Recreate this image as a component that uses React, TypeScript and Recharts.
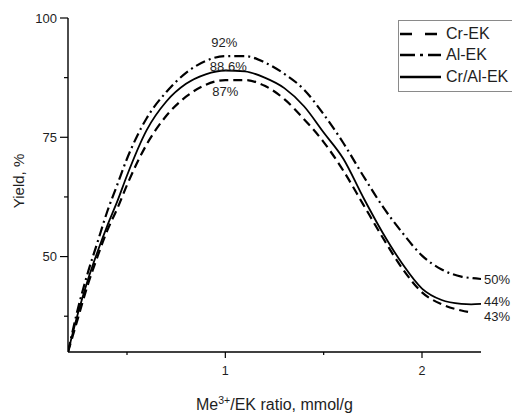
import React from 'react';
import { LineChart, Line, XAxis, YAxis, ReferenceDot, Label } from 'recharts';

// Me3+/EK ratio, mmol/g
const ratio = [0.2, 0.25, 0.3, 0.35, 0.4, 0.45, 0.5, 0.6, 0.7, 0.8, 0.9, 1.0, 1.1, 1.2, 1.3, 1.4, 1.5, 1.6, 1.7, 1.8, 1.9, 2.0, 2.1, 2.2, 2.25, 2.3];

// Yield, %
const crEK = [30, 37, 44, 50, 55.5, 60, 65, 73.5, 79.5, 83.5, 86, 87, 87, 85.8, 83, 78.8, 74, 68, 61, 54, 47.5, 42.5, 40, 38.7, 38.3, null];
const alEK = [30, 39, 46.5, 53, 59.5, 65, 70.5, 79, 84.5, 88.5, 91, 92, 92, 90.7, 88.3, 85, 79.8, 73.8, 67, 60.5, 55, 50.2, 47.3, 45.8, 45.5, 45.3];
const crAlEK = [30, 38, 45, 51, 56.5, 61.5, 67, 76.5, 82.5, 86.2, 88.2, 89, 88.8, 87.5, 85.3, 81.5, 76, 70.5, 62.5, 55, 48.5, 43.3, 40.9, 40.1, 40, 40.1];

const xTicks = [0.5, 1, 1.5, 2];
const xLabels = [1, 2];
const yTicks = [37.5, 50, 62.5, 75, 87.5, 100];
const yLabels = [50, 75, 100];

const peakNotes = [
  { x: 0.995, y: 94.8, text: '92%' },
  { x: 1.015, y: 89.9, text: '88.6%' },
  { x: 1.0, y: 84.6, text: '87%' },
];
const endNotes = [
  { x: 2.3, y: 45.3, text: '50%' },
  { x: 2.3, y: 40.7, text: '44%' },
  { x: 2.3, y: 37.4, text: '43%' },
];

const data = ratio.map((r, i) => ({ ratio: r, cr: crEK[i], al: alEK[i], cral: crAlEK[i] }));

const FONT = '"Liberation Sans", Arial, sans-serif';
const INK = '#1e1e1e';

const series = [
  { key: 'cr', name: 'Cr-EK', dash: '9 5', legendDash: '12 13' },
  { key: 'al', name: 'Al-EK', dash: '10 4 2 4', legendDash: '15 5 3 5' },
  { key: 'cral', name: 'Cr/Al-EK', dash: undefined, legendDash: undefined },
];

const XTick = (props: any) => {
  const { x, y, payload } = props;
  const major = xLabels.includes(payload.value);
  return (
    <g>
      <line x1={x} y1={y} x2={x} y2={y + (major ? 6 : 3)} stroke="#000" strokeWidth={1.2} />
      {major && (
        <text x={x} y={y + 23} textAnchor="middle" fontSize={12.5} fill={INK} fontFamily={FONT}>
          {payload.value}
        </text>
      )}
    </g>
  );
};

const YTick = (props: any) => {
  const { x, y, payload } = props;
  const major = yLabels.includes(payload.value);
  return (
    <g>
      <line x1={x} y1={y} x2={x - (major ? 8 : 4)} y2={y} stroke="#000" strokeWidth={1.2} />
      {major && (
        <text x={x - 11} y={y} textAnchor="end" dominantBaseline="central" fontSize={13} fill={INK} fontFamily={FONT}>
          {payload.value}
        </text>
      )}
    </g>
  );
};

const XTitle = (props: any) => {
  const { viewBox } = props;
  const cx = viewBox.x + viewBox.width / 2;
  return (
    <text x={cx} y={viewBox.y + 58} textAnchor="middle" fontSize={16} fill={INK} fontFamily={FONT}>
      Me
      <tspan fontSize={10.5} dy={-6}>3+</tspan>
      <tspan dy={6}>/EK ratio, mmol/g</tspan>
    </text>
  );
};

const YTitle = (props: any) => {
  const { viewBox } = props;
  const cy = viewBox.y + viewBox.height / 2 - 4;
  return (
    <text
      x={18}
      y={cy}
      transform={`rotate(-90 18 ${cy})`}
      textAnchor="middle"
      dominantBaseline="central"
      fontSize={15}
      fill={INK}
      fontFamily={FONT}
    >
      Yield, %
    </text>
  );
};

// legend is drawn as a plain box on top, so it doesn't eat into the plot area
const LegendBox = () => (
  <div
    style={{
      position: 'absolute',
      left: 398,
      top: 20,
      border: '1px solid #8a8a8a',
      background: '#fff',
      width: 120,
      padding: '2px 0 3px 0',
      fontFamily: FONT,
      fontSize: 16,
      color: INK,
    }}
  >
    {series.map((s) => (
      <div key={s.key} style={{ display: 'flex', alignItems: 'center', height: 21.5 }}>
        <svg width={44} height={10} style={{ flex: 'none' }}>
          <line x1={1} y1={5} x2={42} y2={5} stroke="#000" strokeWidth={2.4} strokeDasharray={s.legendDash} />
        </svg>
        <span style={{ marginLeft: 3, lineHeight: '18px' }}>{s.name}</span>
      </div>
    ))}
  </div>
);

export default function App() {
  return (
    <div style={{ position: 'absolute', left: 0, top: 0, width: 512, height: 414, overflow: 'hidden', background: '#fff' }}>
      <LineChart width={512} height={414} data={data} margin={{ top: 18, right: 31, bottom: 0, left: 0 }}>
        <XAxis
          type="number"
          dataKey="ratio"
          domain={[0.2, 2.3]}
          ticks={xTicks}
          allowDataOverflow
          height={62}
          tickSize={0}
          tickMargin={0}
          tickLine={false}
          tick={<XTick />}
          axisLine={{ stroke: '#000', strokeWidth: 1.4 }}
        >
          <Label content={<XTitle />} />
        </XAxis>
        <YAxis
          type="number"
          domain={[30, 100]}
          ticks={yTicks}
          allowDataOverflow
          width={68}
          tickSize={0}
          tickMargin={0}
          tickLine={false}
          tick={<YTick />}
          axisLine={{ stroke: '#000', strokeWidth: 1.4 }}
        >
          <Label content={<YTitle />} />
        </YAxis>
        {series.map((s) => (
          <Line
            key={s.key}
            type="monotone"
            dataKey={s.key}
            name={s.name}
            stroke="#000"
            strokeWidth={s.dash ? 2.2 : 1.8}
            strokeDasharray={s.dash}
            dot={false}
            activeDot={false}
            isAnimationActive={false}
          />
        ))}
        {peakNotes.map((n) => (
          <ReferenceDot
            key={n.text}
            x={n.x}
            y={n.y}
            r={0}
            stroke="none"
            fill="none"
            label={{ value: n.text, position: 'center', fontSize: 13, fill: INK, fontFamily: FONT }}
          />
        ))}
        {endNotes.map((n) => (
          <ReferenceDot
            key={n.text}
            x={n.x}
            y={n.y}
            r={0}
            stroke="none"
            fill="none"
            ifOverflow="visible"
            label={{ value: n.text, position: 'right', offset: 3, fontSize: 13, fill: INK, fontFamily: FONT }}
          />
        ))}
      </LineChart>
      <LegendBox />
    </div>
  );
}
